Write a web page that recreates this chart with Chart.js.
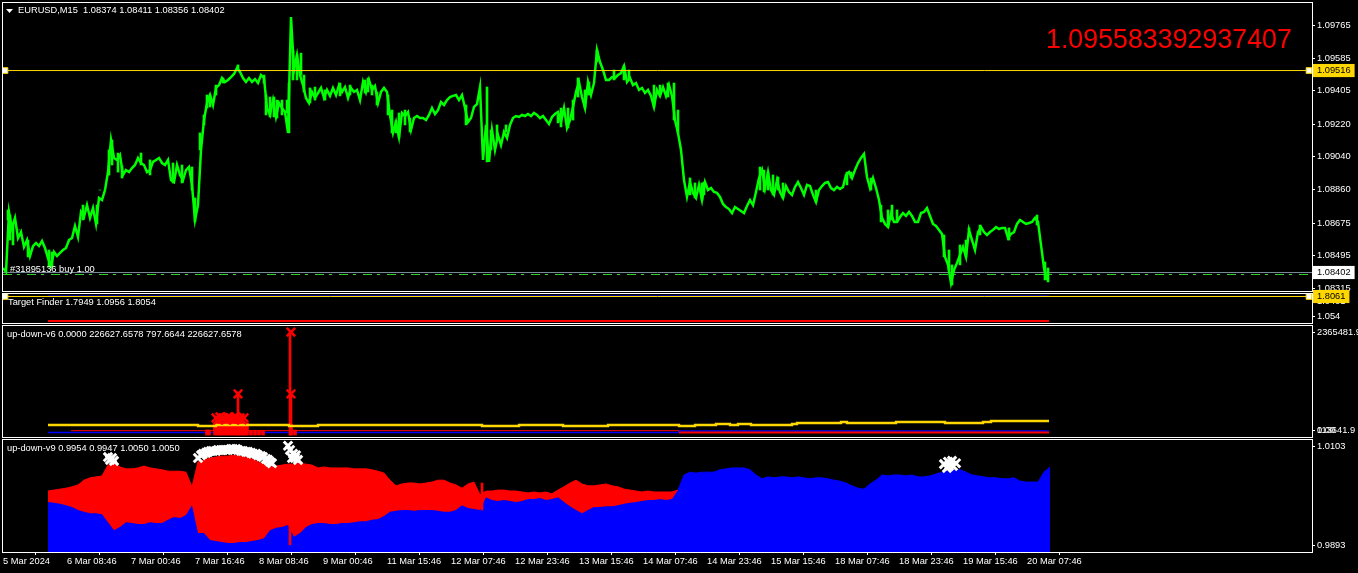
<!DOCTYPE html>
<html>
<head>
<meta charset="utf-8">
<script src="https://cdn.jsdelivr.net/npm/chart.js@4"></script>
<style>
html, body { margin: 0; background: #000; overflow: hidden; }
canvas { position: absolute; left: 0; top: 0; }
</style>
</head>
<body>
<canvas id="price" width="1358" height="573"></canvas>
<canvas id="finder" width="1358" height="573"></canvas>
<canvas id="v6" width="1358" height="573"></canvas>
<canvas id="v9" width="1358" height="573"></canvas>
<script>
//time axis, one bar is one M15 candle
const timeTickBars = [0, 64, 128, 192, 256, 320, 384, 448, 512, 576, 640, 704, 768, 832, 896, 960, 1024];
const timeTickLabels = ["5 Mar 2024", "6 Mar 08:46", "7 Mar 00:46", "7 Mar 16:46", "8 Mar 08:46", "9 Mar 00:46", "11 Mar 15:46", "12 Mar 07:46", "12 Mar 23:46", "13 Mar 15:46", "14 Mar 07:46", "14 Mar 23:46", "15 Mar 15:46", "18 Mar 07:46", "18 Mar 23:46", "19 Mar 15:46", "20 Mar 07:46"];

//price pane, one value every 3 bars
const priceStep = 3;
const priceValues = [
  1.08427, 1.08405, 1.08736, 1.08648, 1.08703, 1.08592, 1.08625, 1.08543, 1.08581, 1.08493, 1.08548, 1.08565, 1.08548, 1.08576, 1.08537, 1.08482,
  1.08438, 1.08515, 1.08493, 1.0851, 1.08526, 1.08537, 1.08581, 1.08592, 1.08659, 1.08598, 1.08736, 1.08708, 1.08774, 1.08703, 1.08758, 1.0867,
  1.08813, 1.08802, 1.08857, 1.08956, 1.09133, 1.09034, 1.09023, 1.0905, 1.0894, 1.08967, 1.08956, 1.08978, 1.08995, 1.09034, 1.09006, 1.08995,
  1.08956, 1.08967, 1.09012, 1.09023, 1.09034, 1.09006, 1.08995, 1.09023, 1.08912, 1.08901, 1.08995, 1.0894, 1.08912, 1.08967, 1.08984, 1.08885,
  1.08692, 1.08774, 1.09078, 1.09243, 1.09337, 1.09381, 1.09326, 1.0942, 1.09436, 1.09475, 1.09453, 1.09464, 1.0948, 1.09497, 1.0953, 1.09508,
  1.09475, 1.09453, 1.09475, 1.09453, 1.09469, 1.09447, 1.09491, 1.09475,
  1.09309, 1.09271, 1.09353, 1.0926, 1.09337, 1.09309, 1.09287, 1.09172, 1.09811, 1.09519, 1.09602, 1.09491, 1.09436, 1.09365, 1.09337, 1.09398,
  1.09365, 1.09392, 1.0942, 1.09365, 1.09409, 1.09376, 1.0942, 1.09381, 1.09436, 1.09398, 1.09425, 1.09365, 1.0942, 1.09398, 1.09409, 1.09353,
  1.09453, 1.09398, 1.09464, 1.09409, 1.09431, 1.09337, 1.09398, 1.0942, 1.09398, 1.09271, 1.09172, 1.09232, 1.09149, 1.09282, 1.09265, 1.09287,
  1.09188, 1.09254, 1.09265, 1.09254, 1.09254, 1.09243, 1.09271, 1.09309, 1.09276, 1.09298, 1.09342, 1.09326, 1.09353,
  1.0937, 1.09376, 1.09381, 1.09353, 1.09381, 1.09309, 1.09232, 1.09254, 1.09315, 1.09331, 1.09425, 1.09023, 1.09216, 1.09012, 1.09188, 1.09078,
  1.0916, 1.09105, 1.09177, 1.09144, 1.09216, 1.09254, 1.09265, 1.0926, 1.09271, 1.09265, 1.09276, 1.09265, 1.09282, 1.09271, 1.09254, 1.09265,
  1.09243, 1.09221, 1.0926, 1.09276, 1.09287, 1.09232, 1.09309, 1.09199, 1.09243, 1.09315, 1.09398, 1.09453, 1.0937, 1.09309, 1.09453, 1.09381,
  1.09447, 1.09629, 1.09563, 1.09519, 1.09464, 1.09464, 1.0948, 1.09475, 1.09491, 1.09502, 1.09541, 1.09453, 1.09475, 1.09436, 1.09447, 1.09409,
  1.0942, 1.09392, 1.09409, 1.09376, 1.09315, 1.09409, 1.09376, 1.09425, 1.09376, 1.09436, 1.09376, 1.09243, 1.09172, 1.09078, 1.08912, 1.08819,
  1.08901, 1.08841, 1.08813, 1.08885, 1.08802, 1.08901, 1.08857, 1.08868, 1.08846, 1.08841, 1.08819, 1.0878, 1.08763, 1.08752, 1.0873, 1.08763,
  1.08752, 1.08741, 1.0873, 1.08769, 1.08802, 1.08774, 1.08846, 1.08923, 1.08967, 1.08868, 1.08956, 1.08857, 1.0883, 1.08912, 1.08846, 1.08813,
  1.08879, 1.08846, 1.0883, 1.08874, 1.08901, 1.08868, 1.0883, 1.08885, 1.08879, 1.0883, 1.08791, 1.08857, 1.08879, 1.08896, 1.08901, 1.08868,
  1.08857, 1.08874, 1.08863, 1.08874, 1.0894, 1.08956, 1.08923, 1.08967, 1.09006, 1.09034, 1.09056, 1.08929, 1.08868, 1.08923, 1.08868, 1.08802,
  1.08703, 1.0867, 1.08653, 1.08725, 1.08681, 1.08681, 1.08708, 1.0873, 1.08714, 1.08736, 1.08714, 1.08681, 1.08681, 1.0873, 1.08736, 1.08758,
  1.08714, 1.0867, 1.08659, 1.08637, 1.08615, 1.08488, 1.08444, 1.08344, 1.08416, 1.08455, 1.08499, 1.08543, 1.08488, 1.08637, 1.08581, 1.08526,
  1.08625, 1.08653, 1.08625, 1.08609, 1.08625, 1.08637, 1.08653, 1.08642, 1.08648, 1.08648, 1.08592, 1.08615, 1.08625, 1.0867, 1.08692, 1.08681,
  1.0867, 1.08675, 1.08681, 1.08703, 1.08681, 1.08554, 1.08427, 1.08361
];
const wickBars = [5, 7, 10, 16, 25, 46, 49, 80, 94, 97, 106, 109, 115, 119, 138, 147, 170, 179, 189, 192, 197, 201, 204, 207, 213, 220, 235, 261,
  263, 267, 271, 274, 279, 284, 286, 290, 294, 298, 301, 307, 312, 322, 337, 347, 362, 365, 369, 374, 385, 389, 393, 396, 402, 407,
  463, 484, 488, 494, 503, 555, 558, 565, 570, 575, 582, 586, 594, 611, 621, 626, 651, 657, 665, 671, 675,
  687, 692, 699, 701, 757, 761, 765, 770, 775, 780, 813, 844, 848, 868, 878, 885, 889, 894, 941, 946, 949, 957, 963, 966, 977, 1006, 1034, 1042, 1045];
const wickLows = [1.08692, 1.08581, 1.08554, 1.08637, 1.08488, 1.08432, 1.08432, 1.08692, 1.0867, 1.08857, 1.0894, 1.08995, 1.08956, 1.08923, 1.08995, 1.0894, 1.08896, 1.08896, 1.08857, 1.08681, 1.09078, 1.09216, 1.09309, 1.09315, 1.09381, 1.09447, 1.09519, 1.09447,
  1.09271, 1.0926, 1.0926, 1.09254, 1.09271, 1.09282, 1.09172, 1.09464, 1.09464, 1.09491, 1.09398, 1.09337, 1.09353, 1.09353, 1.09376, 1.09381, 1.09392, 1.09398, 1.09381, 1.09326, 1.09271, 1.09172, 1.09172, 1.09144, 1.09216, 1.09177,
  1.09216, 1.09012, 1.09078, 1.09133, 1.09177, 1.09227, 1.09205, 1.09199, 1.09243, 1.0937, 1.09309, 1.09381, 1.09563, 1.09464, 1.09464, 1.09464, 1.09315, 1.09381, 1.09370, 1.09243, 1.09172,
  1.0883, 1.08813, 1.08802, 1.0883, 1.08857, 1.08846, 1.08857, 1.0883, 1.08857, 1.08813, 1.08791, 1.08885, 1.08923, 1.08857, 1.08681, 1.08653, 1.08692, 1.08681, 1.08488, 1.08416, 1.08333, 1.08444, 1.08488, 1.08637, 1.08609, 1.08581, 1.08664, 1.08361, 1.0835];
const wickHighs = [1.08747, 1.08719, 1.08664, 1.08637, 1.08581, 1.08526, 1.08515, 1.08774, 1.08774, 1.08857, 1.09078, 1.09133, 1.09061, 1.0899, 1.09061, 1.09023, 1.09006, 1.08995, 1.08984, 1.08813, 1.09172, 1.09271, 1.09381, 1.09381, 1.09436, 1.09475, 1.09547, 1.09491,
  1.09381, 1.09370, 1.09370, 1.09353, 1.09353, 1.09353, 1.09447, 1.09629, 1.09602, 1.09612, 1.09491, 1.09420, 1.09425, 1.09409, 1.09447, 1.09436, 1.09464, 1.09475, 1.09436, 1.09398, 1.09381, 1.09298, 1.09239, 1.09282, 1.09298, 1.09254,
  1.09326, 1.09425, 1.09188, 1.09216, 1.09216, 1.09271, 1.09309, 1.09309, 1.09353, 1.09475, 1.09409, 1.09453, 1.09629, 1.09519, 1.09541, 1.09519, 1.09436, 1.09436, 1.09447, 1.09447, 1.09298,
  1.08923, 1.08896, 1.08896, 1.08901, 1.08984, 1.08967, 1.08956, 1.08940, 1.08929, 1.08896, 1.08857, 1.08956, 1.08956, 1.08923, 1.08774, 1.08747, 1.08774, 1.08747, 1.08609, 1.08526, 1.08444, 1.08554, 1.08581, 1.08648, 1.08664, 1.08648, 1.08719, 1.08460, 1.08427];
const priceTicks = [1.09765, 1.09585, 1.09405, 1.0922, 1.0904, 1.0886, 1.08675, 1.08495, 1.08315, 1.09516, 1.08402];
const levelLine = 1.09516;
const bidLine = 1.08402;
const orderLine = 1.08391;

//target finder pane
const finderBars = [45, 1046];
const finderLevel = 1.8061;
const finderBlue = [1.8351, 1.8351];
const finderRed = [1.0956, 1.0956];
const finderTickValues = [1.6611, 1.2261, 1.8061];
const finderTickLabels = ["1.0401", "1.054", "1.8061"];

//up-down-v6 pane
const v6GoldBars = [45, 195, 213, 286, 315, 447, 479, 516, 560, 605, 676, 692, 713, 727, 735, 748, 789, 794, 838, 844, 893, 942, 980, 988, 1046];
const v6GoldValues = [229800, 207000, 229800, 207000, 229800, 229800, 207000, 229800, 207000, 229800, 207000, 229800, 253000, 229800, 253000, 229800, 253000, 276000, 299000, 276000, 299000, 276000, 299000, 321700, 321700];
const v6BlueBars = [45, 676, 676, 1046];
const v6BlueValues = [60000, 60000, 92000, 92000];
const v6RedLeftBars = [68, 676];
const v6RedLeftValues = [100000, 100000];
const v6RedRightBars = [676, 1046];
const v6RedRightValues = [57000, 57000];
const v6BlockBars = [204, 206, 212, 214, 216, 218, 220, 222, 224, 226, 228, 230, 232, 234, 236, 238, 240, 242, 244, 248, 252, 256, 260, 288, 292];
const v6BlockValues = [115000, 115000, 276000, 276000, 276000, 276000, 276000, 276000, 276000, 276000, 276000, 276000, 276000, 276000, 276000, 276000, 276000, 276000, 276000, 105000, 105000, 105000, 105000, 250000, 115000];
const v6StemBars = [235, 287, 288];
const v6StemValues = [942000, 2365481.9, 942000];
const v6CrossBars = [213, 215, 217, 219, 221, 223, 225, 227, 229, 231, 233, 235, 237, 239, 241, 235, 288, 288];
const v6CrossValues = [391000, 345000, 414000, 368000, 391000, 345000, 414000, 391000, 368000, 345000, 414000, 368000, 391000, 345000, 391000, 942000, 2365481.9, 942000];
const v6TickValues = [2365481.9, 113641.9, 113641.9];
const v6TickLabels = ["2365481.9", "0.00", "113641.9"];

//up-down-v9 pane, one value every 6 bars
const v9Start = 45;
const v9Step = 6;
const v9Blue = [
  0.9986, 0.9984, 0.9982, 0.9979, 0.9975, 0.9969, 0.9965, 0.9962, 0.9962, 0.996, 0.9943, 0.9926, 0.9933, 0.9943, 0.9941, 0.9939,
  0.9939, 0.9943, 0.9941, 0.9941, 0.9948, 0.9954, 0.9952, 0.9958, 0.9979, 0.992, 0.992, 0.9905, 0.9903, 0.9901, 0.9899, 0.9899,
  0.9901, 0.9901, 0.9903, 0.9905, 0.9909, 0.9926, 0.9931, 0.9933, 0.9937, 0.9912, 0.992, 0.9933, 0.9939, 0.9941, 0.9941, 0.9939,
  0.9939, 0.9941, 0.9941, 0.9943, 0.9945, 0.9945, 0.9948, 0.995, 0.9956, 0.9965, 0.9967, 0.9969, 0.9969, 0.9967, 0.9969, 0.9969,
  0.9969, 0.9967, 0.9965, 0.9965, 0.9969, 0.9979, 0.9973, 0.9971, 0.9969, 0.9996, 0.999, 0.9988, 0.999, 0.9988, 0.9986, 0.9988,
  0.9992, 0.9992, 0.9994, 0.999, 0.9992, 0.9996, 0.9986, 0.9977, 0.9969, 0.9962, 0.9969, 0.9975, 0.9975, 0.9977, 0.9977, 0.9979,
  0.9982, 0.9984, 0.9986, 0.9988, 0.999, 0.999, 0.9992, 0.999, 0.9992,
  1.0011, 1.0043, 1.0049, 1.0047, 1.0049, 1.0049, 1.0049, 1.0054, 1.0056, 1.0058, 1.0058, 1.0058, 1.0054, 1.0043, 1.0035,
  1.0039, 1.0037, 1.0039, 1.0039, 1.0037, 1.0039, 1.0037, 1.0035, 1.0037, 1.0037, 1.0035, 1.0032, 1.003, 1.0026, 1.002, 1.0015,
  1.0013, 1.0024, 1.0032, 1.0043, 1.0041, 1.0043, 1.0043, 1.0041, 1.0043, 1.0039, 1.0039, 1.0041, 1.0045, 1.0049, 1.0051, 1.0054,
  1.0054, 1.0049, 1.0043, 1.0041, 1.0039, 1.0037, 1.0037, 1.0035, 1.0035, 1.0037, 1.003, 1.0028, 1.0028, 1.0028, 1.0049, 1.006
];
const v9Red = [
  1.0009, 1.0011, 1.0013, 1.0015, 1.0018, 1.0022, 1.0032, 1.0037, 1.0039, 1.0041, 1.0064, 1.0068, 1.006, 1.0056, 1.0056, 1.0058,
  1.0062, 1.0058, 1.0056, 1.0054, 1.0051, 1.0051, 1.0051, 1.0049, 1.0018, 1.0071, 1.0075, 1.0079, 1.0081, 1.0083, 1.0083, 1.0085,
  1.0083, 1.0081, 1.0077, 1.0071, 1.0066, 1.0064, 1.0062, 1.0064, 1.0066, 1.0066, 1.0068, 1.0066, 1.0064, 1.0058, 1.006, 1.0058,
  1.0058, 1.0058, 1.0058, 1.0056, 1.0056, 1.0056, 1.0054, 1.0051, 1.0047, 1.0032, 1.002, 1.0024, 1.0026, 1.0026, 1.0024, 1.0026,
  1.0028, 1.0032, 1.0032, 1.0026, 1.0022, 1.0015, 1.0024, 1.0028, 1.0001, 1.0009, 1.0009, 1.0011, 1.0011, 1.0009, 1.0009, 1.0007,
  1.0005, 1.0007, 1.0005, 1.0007, 1.0003, 1.0011, 1.0018, 1.0026, 1.0032, 1.0024, 1.002, 1.002, 1.0022, 1.0024, 1.002, 1.0018,
  1.0013, 1.0011, 1.0009, 1.0007, 1.0009, 1.0007, 1.0007, 1.0007, 1.0007, 1.0011
];
const v9SpikeBars = [287, 479];
const v9SpikeRanges = [[0.9895, 1.0066], [0.9969, 1.0026]];
const v9WhiteBars = [105, 107, 109, 111,
  195, 198, 200, 203, 205, 208, 210, 213, 215, 218, 220, 223, 225, 228, 230, 233, 235, 238, 240, 243, 245, 248, 250, 253, 255, 258, 260, 263, 265, 267, 269,
  285, 287, 290, 292, 289, 293, 295,
  941, 945, 949, 953, 946, 950, 944];
const v9WhiteValues = [1.0081, 1.0075, 1.0079, 1.0073,
  1.0079, 1.0085, 1.0088, 1.009, 1.0092, 1.0094, 1.0094, 1.0094, 1.0096, 1.0096, 1.0096, 1.0096, 1.0096, 1.0098, 1.0098, 1.0098, 1.0096, 1.0094, 1.0094, 1.0092, 1.0092, 1.009, 1.0088, 1.0088, 1.0085, 1.0083, 1.0081, 1.0077, 1.0075, 1.0071, 1.0068,
  1.0105, 1.0096, 1.0088, 1.0079, 1.0079, 1.0085, 1.0075,
  1.0066, 1.0071, 1.0073, 1.0068, 1.0062, 1.0062, 1.0058];
const v9Ticks = [1.0103, 0.9893];

//pane captions
const priceCaption = "EURUSD,M15  1.08374 1.08411 1.08356 1.08402";
const orderCaption = "#31895136 buy 1.00";
const bigCaption = "1.095583392937407";
const finderCaption = "Target Finder 1.7949 1.0956 1.8054";
const v6Caption = "up-down-v6 0.0000 226627.6578 797.6644 226627.6578";
const v9Caption = "up-down-v9 0.9954 0.9947 1.0050 1.0050";

const GOLD = "#ffd700";
const RED = "#ff0000";
const BLUE = "#0000ff";
const GREEN = "#00ff00";
const FONT = "'Liberation Sans'";
const FONT_SIZE = 9.3;
const lastBar = 1309;

Chart.defaults.font.family = FONT;
Chart.defaults.font.size = FONT_SIZE;
Chart.defaults.animation = false;

function points(bars, values) {
  return values.map((v, i) => ({ x: bars[i], y: v }));
}

function lineSet(data, color, width, extra) {
  return Object.assign({ type: "line", data: data, borderColor: color, borderWidth: width, pointRadius: 0, tension: 0, fill: false }, extra);
}

function levelSet(value, color, width, extra) {
  return lineSet([{ x: 0, y: value }, { x: lastBar, y: value }], color, width, extra);
}

function anchorSet(value) {
  return {
    type: "scatter",
    data: [{ x: 2, y: value }, { x: 1306, y: value }],
    pointStyle: "rect",
    pointRadius: 4,
    borderWidth: 1,
    borderColor: GOLD,
    backgroundColor: "#ffffff",
  };
}

function crossSet(data, color, radius, width) {
  return { type: "scatter", data: data, pointStyle: "crossRot", pointRadius: radius, borderWidth: width, borderColor: color, backgroundColor: color };
}

function barSet(data, color, thickness) {
  return { type: "bar", data: data, backgroundColor: color, barThickness: thickness, borderWidth: 0, grouped: false };
}

//white frame and the captions of a pane
function panePlugin(captions, triangle) {
  return {
    id: "pane",
    afterDraw(chart) {
      const c = chart.ctx;
      const a = chart.chartArea;
      c.save();
      c.strokeStyle = "#ffffff";
      c.lineWidth = 1;
      c.strokeRect(a.left - 0.5, a.top + 0.5, a.right - a.left + 1, a.bottom - a.top);
      if (triangle) {
        c.fillStyle = "#ffffff";
        c.beginPath();
        c.moveTo(6, 9);
        c.lineTo(13, 9);
        c.lineTo(9.5, 13);
        c.fill();
      }
      captions.forEach((t) => {
        c.font = (t.size || FONT_SIZE) + "px " + FONT;
        c.fillStyle = t.color || "#ffffff";
        c.textBaseline = "middle";
        c.fillText(t.text, t.x, t.y);
      });
      c.restore();
    },
  };
}

function makePane(id, top, bottom, o) {
  const yTicks = o.tickValues;
  const tags = o.tags || {};
  const hasTime = !!o.time;
  return new Chart(id, {
    data: { datasets: o.datasets },
    options: {
      responsive: false,
      layout: { autoPadding: false, padding: { left: 3, right: 0, top: top, bottom: hasTime ? 0 : 573 - bottom } },
      plugins: { legend: { display: false }, tooltip: { enabled: false } },
      scales: {
        x: {
          type: "linear",
          min: 0,
          max: lastBar,
          display: hasTime,
          offset: false,
          border: { display: false },
          grid: { drawOnChartArea: false, color: "#ffffff", tickLength: 3 },
          ticks: {
            color: "#ffffff",
            autoSkip: false,
            maxRotation: 0,
            align: "start",
            padding: 1,
            callback: (v, i) => timeTickLabels[i],
          },
          afterBuildTicks(s) { s.ticks = timeTickBars.map((b) => ({ value: b })); },
          afterFit(s) {
            if (hasTime) s.height = 573 - bottom;
            s.paddingLeft = 0;
            s.paddingRight = 0;
          },
        },
        y: {
          type: "linear",
          position: "right",
          min: o.min,
          max: o.max,
          border: { display: false },
          grid: { drawOnChartArea: false, color: "#ffffff", tickLength: 3 },
          ticks: {
            autoSkip: false,
            padding: 2,
            color: (ctx) => (tags[ctx.tick.value] ? "#000000" : "#ffffff"),
            showLabelBackdrop: (ctx) => !!tags[ctx.tick.value],
            backdropColor: (ctx) => tags[ctx.tick.value] || "rgba(0,0,0,0)",
            backdropPadding: { x: 4, y: 1 },
            callback: (v, i) => o.tickLabels[i],
          },
          afterBuildTicks(s) { s.ticks = yTicks.map((v) => ({ value: v })); },
          afterFit(s) { s.width = 46; s.paddingTop = 0; s.paddingBottom = 0; },
        },
      },
    },
    plugins: [panePlugin(o.captions, o.triangle)],
  });
}

makePane("price", 2, 291, {
  min: 1.083,
  max: 1.09894,
  triangle: true,
  tickValues: priceTicks,
  tickLabels: priceTicks.map((v) => v.toFixed(5)),
  tags: { [levelLine]: GOLD, [bidLine]: "#ffffff" },
  captions: [
    { text: priceCaption, x: 18, y: 10 },
    { text: orderCaption, x: 10, y: 269 },
    { text: bigCaption, x: 1046, y: 41, size: 26.8, color: RED },
  ],
  datasets: [
    anchorSet(levelLine),
    levelSet(levelLine, GOLD, 1),
    lineSet(priceValues.map((v, i) => ({ x: i * priceStep, y: v })), GREEN, 2.5),
    barSet(wickBars.map((b, i) => ({ x: b, y: [wickLows[i], wickHighs[i]] })), GREEN, 2),
    levelSet(bidLine, "#778899", 1),
    levelSet(orderLine, "#32cd32", 1, { borderDash: [9, 5, 3, 7] }),
  ],
});

makePane("finder", 293, 323, {
  min: 1.0376,
  max: 1.9076,
  tickValues: finderTickValues,
  tickLabels: finderTickLabels,
  tags: { [finderLevel]: GOLD },
  captions: [{ text: finderCaption, x: 8, y: 302 }],
  datasets: [
    anchorSet(finderLevel),
    levelSet(finderLevel, GOLD, 1),
    lineSet(points(finderBars, finderBlue), "#00008b", 1),
    lineSet(points(finderBars, finderRed), RED, 2),
  ],
});

makePane("v6", 325, 437, {
  min: -45956,
  max: 2526328,
  tickValues: v6TickValues,
  tickLabels: v6TickLabels,
  captions: [{ text: v6Caption, x: 7, y: 334 }],
  datasets: [
    crossSet(points(v6CrossBars, v6CrossValues), RED, 6, 2.5),
    lineSet(points(v6GoldBars, v6GoldValues), GOLD, 2.4, { stepped: true }),
    barSet(points(v6StemBars, v6StemValues), RED, 2),
    barSet(points(v6BlockBars, v6BlockValues), RED, 3),
    lineSet(points(v6RedLeftBars, v6RedLeftValues), RED, 1),
    lineSet(points(v6RedRightBars, v6RedRightValues), RED, 2),
    lineSet(points(v6BlueBars, v6BlueValues), BLUE, 1.5),
  ],
});

makePane("v9", 439, 552, {
  time: true,
  min: 0.98798,
  max: 1.01193,
  tickValues: v9Ticks,
  tickLabels: v9Ticks.map((v) => v.toFixed(4)),
  captions: [{ text: v9Caption, x: 7, y: 448 }],
  datasets: [
    crossSet(points(v9WhiteBars, v9WhiteValues), "#ffffff", 6, 3),
    barSet(points(v9SpikeBars, v9SpikeRanges), RED, 2),
    lineSet(v9Red.map((v, i) => ({ x: v9Start + i * v9Step, y: v })), RED, 1, { fill: { target: 3 }, backgroundColor: RED }),
    lineSet(v9Blue.map((v, i) => ({ x: v9Start + i * v9Step, y: v })), BLUE, 1, { fill: "start", backgroundColor: BLUE }),
  ],
});
</script>
</body>
</html>
